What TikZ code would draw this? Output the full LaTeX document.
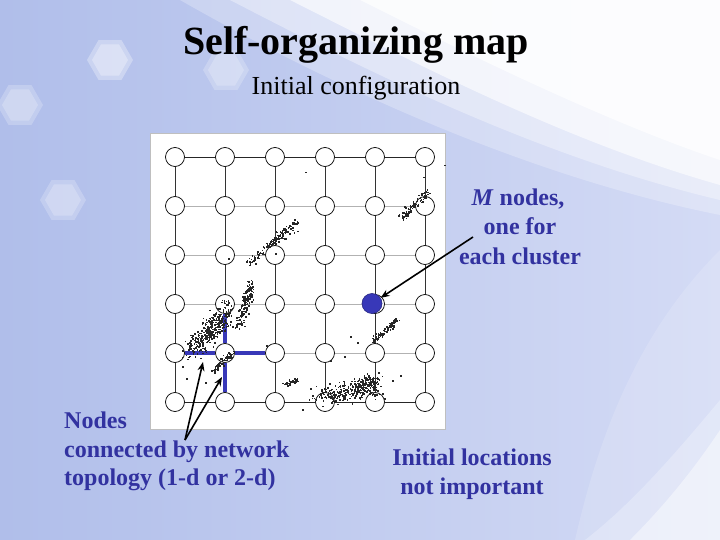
\documentclass[tikz,border=0pt]{standalone}
\usepackage{fontspec}
\setmainfont{Liberation Serif}
\usetikzlibrary{arrows.meta}
\definecolor{bgblue}{RGB}{176,190,234}
\definecolor{bglight}{RGB}{212,219,245}
\definecolor{somblue}{RGB}{56,56,184}
\definecolor{txtblue}{RGB}{50,50,160}
\newcommand\somdots[6]{%
  \foreach \k in {1,...,#6}{%
    \pgfmathsetmacro\somt{rnd}%
    \pgfmathsetmacro\px{#1+\somt*(#3-#1)+#5*(rand+rand)}%
    \pgfmathsetmacro\py{#2+\somt*(#4-#2)+#5*(rand+rand)}%
    \fill[black!85] (\px,\py) rectangle ++(1.5,1.5);%
  }}
\begin{document}
\begin{tikzpicture}[x=1pt,y=-1pt,
  som/.style={circle,draw=black,fill=white,minimum size=19pt,inner sep=0pt,line width=0.7pt},
  vline/.style={draw=black!80,line width=0.7pt},
  hline/.style={draw=black!30,line width=0.7pt},
  edgeline/.style={draw=black!85,line width=0.7pt},
  blueline/.style={draw=somblue,line width=3.6pt},
  ptr/.style={draw=black,line width=1.6pt,-{Stealth[length=9pt,width=7pt]}},
  bluetxt/.style={text=txtblue,font=\fontsize{24}{28}\selectfont\bfseries,inner sep=0pt,anchor=base},
  hexa/.style={fill=white}]
\useasboundingbox (0,0) rectangle (720,540);
% background
\shade[left color=bgblue,right color=bglight] (0,0) rectangle (720,540);
\fill[white,opacity=0.25] (180,0) .. controls (320,80) and (520,175) .. (720,215) -- (720,0) -- cycle;
\fill[white,opacity=0.35] (230,0) .. controls (350,62) and (530,155) .. (720,200) -- (720,0) -- cycle;
\fill[white,opacity=0.6] (290,0) .. controls (400,55) and (560,140) .. (720,185) -- (720,0) -- cycle;
\fill[white,opacity=0.7] (360,0) .. controls (450,45) and (600,120) .. (720,160) -- (720,0) -- cycle;
\fill[white,opacity=0.25] (720,400) .. controls (670,460) and (630,505) .. (585,540) -- (720,540) -- cycle;
\fill[white,opacity=0.45] (720,430) .. controls (690,475) and (660,510) .. (630,540) -- (720,540) -- cycle;
\fill[white,opacity=0.15] (720,250) .. controls (640,330) and (600,430) .. (575,540) -- (720,540) -- cycle;
\foreach \hx/\hy/\ho in {110/60/0.3, 226/70/0.22, 20/105/0.22, 63/200/0.22}{
  \fill[hexa,opacity=\ho] (\hx,\hy) +(0:23) -- +(60:23) -- +(120:23) -- +(180:23) -- +(240:23) -- +(300:23) -- cycle;
  \fill[hexa,opacity=\ho] (\hx,\hy) +(0:18) -- +(60:18) -- +(120:18) -- +(180:18) -- +(240:18) -- +(300:18) -- cycle;
}
% titles
\node[font=\fontsize{40}{44}\selectfont\bfseries,inner sep=0pt,anchor=base] (title) at (356,55) {Self-organizing map};
\node[font=\fontsize{26}{30}\selectfont,inner sep=0pt,anchor=base] (subtitle) at (356,95) {Initial configuration};
% panel
\node[draw=black!25,fill=white,line width=0.5pt,minimum width=295pt,minimum height=296pt,inner sep=0pt] (panel) at (297.5,281) {};
% grid nodes
\foreach \i in {0,...,5}{
  \foreach \j in {0,...,5}{
    \node[som] (n\i\j) at ({175+50*\i},{157+49*\j}) {};
  }}
% horizontal connections
\foreach \i in {0,...,4}{
  \pgfmathtruncatemacro\ip{\i+1}
  \draw[edgeline] (n\i0) -- (n\ip0);
  \draw[edgeline] (n\i5) -- (n\ip5);
  \foreach \j in {1,...,4}{
    \draw[hline] (n\i\j) -- (n\ip\j);
  }}
% vertical connections
\foreach \i in {0,...,5}{
  \foreach \j in {0,...,4}{
    \pgfmathtruncatemacro\jp{\j+1}
    \draw[vline] (n\i\j) -- (n\i\jp);
  }}
% neighbourhood in blue
\draw[blueline] (n14) -- (n04);
\draw[blueline] (n14) -- (n24);
\draw[blueline] (n14) -- (n13);
\draw[blueline] (n14) -- (n15);
% winning node
\node[circle,fill=somblue,draw=somblue!70!black,minimum size=20pt,inner sep=0pt,line width=0.6pt] (mnode) at (372,303.5) {};
% data points
\pgfmathsetseed{17}
\somdots{400}{217}{428}{191}{2.2}{80}
\somdots{247}{263}{296}{221}{1.8}{130}
\somdots{250}{262}{292}{226}{5}{25}
\somdots{238}{325}{251}{282}{3.2}{140}
\somdots{222}{297}{229}{311}{2.5}{18}
\somdots{192}{350}{224}{314}{6.5}{330}
\somdots{212}{372}{231}{353}{2}{70}
\somdots{371}{342}{397}{319}{2.2}{90}
\somdots{318}{396}{375}{387}{6}{260}
\somdots{355}{390}{375}{378}{4.5}{110}
\somdots{284}{385}{296}{379}{1.8}{40}
\foreach \p in {(305,172),(444,165),(423,177),(228,258),(275,253),(350,336),(344,356),(357,342),(330,360),(384,398),(400,375),(214,372),(205,382),(266,345),(248,313),(310,388),(302,409),(392,380),(186,378),(182,366)}{
  \fill[black!85] \p rectangle ++(1.5,1.5);
}
% arrows
\coordinate (mstart) at (473,237);
\draw[ptr] (mstart) -- (mnode);
\coordinate (lstart) at (185,440);
\coordinate (tipA) at (203,362);
\coordinate (tipB) at (222,377);
\draw[ptr] (lstart) -- (tipA);
\draw[ptr] (lstart) -- (tipB);
% blue labels
\node[bluetxt] (m1) at (518,206) {\textit{M} nodes,};
\node[bluetxt] (m2) at (520,235) {one for};
\node[bluetxt] (m3) at (520,264) {each cluster};
\node[bluetxt,anchor=base west] (l1) at (64,428) {Nodes};
\node[bluetxt,anchor=base west] (l2) at (64,457) {connected by network};
\node[bluetxt,anchor=base west] (l3) at (64,485) {topology (1-d or 2-d)};
\node[bluetxt] (r1) at (472,465) {Initial locations};
\node[bluetxt] (r2) at (472,494) {not important};
\end{tikzpicture}
\end{document}
